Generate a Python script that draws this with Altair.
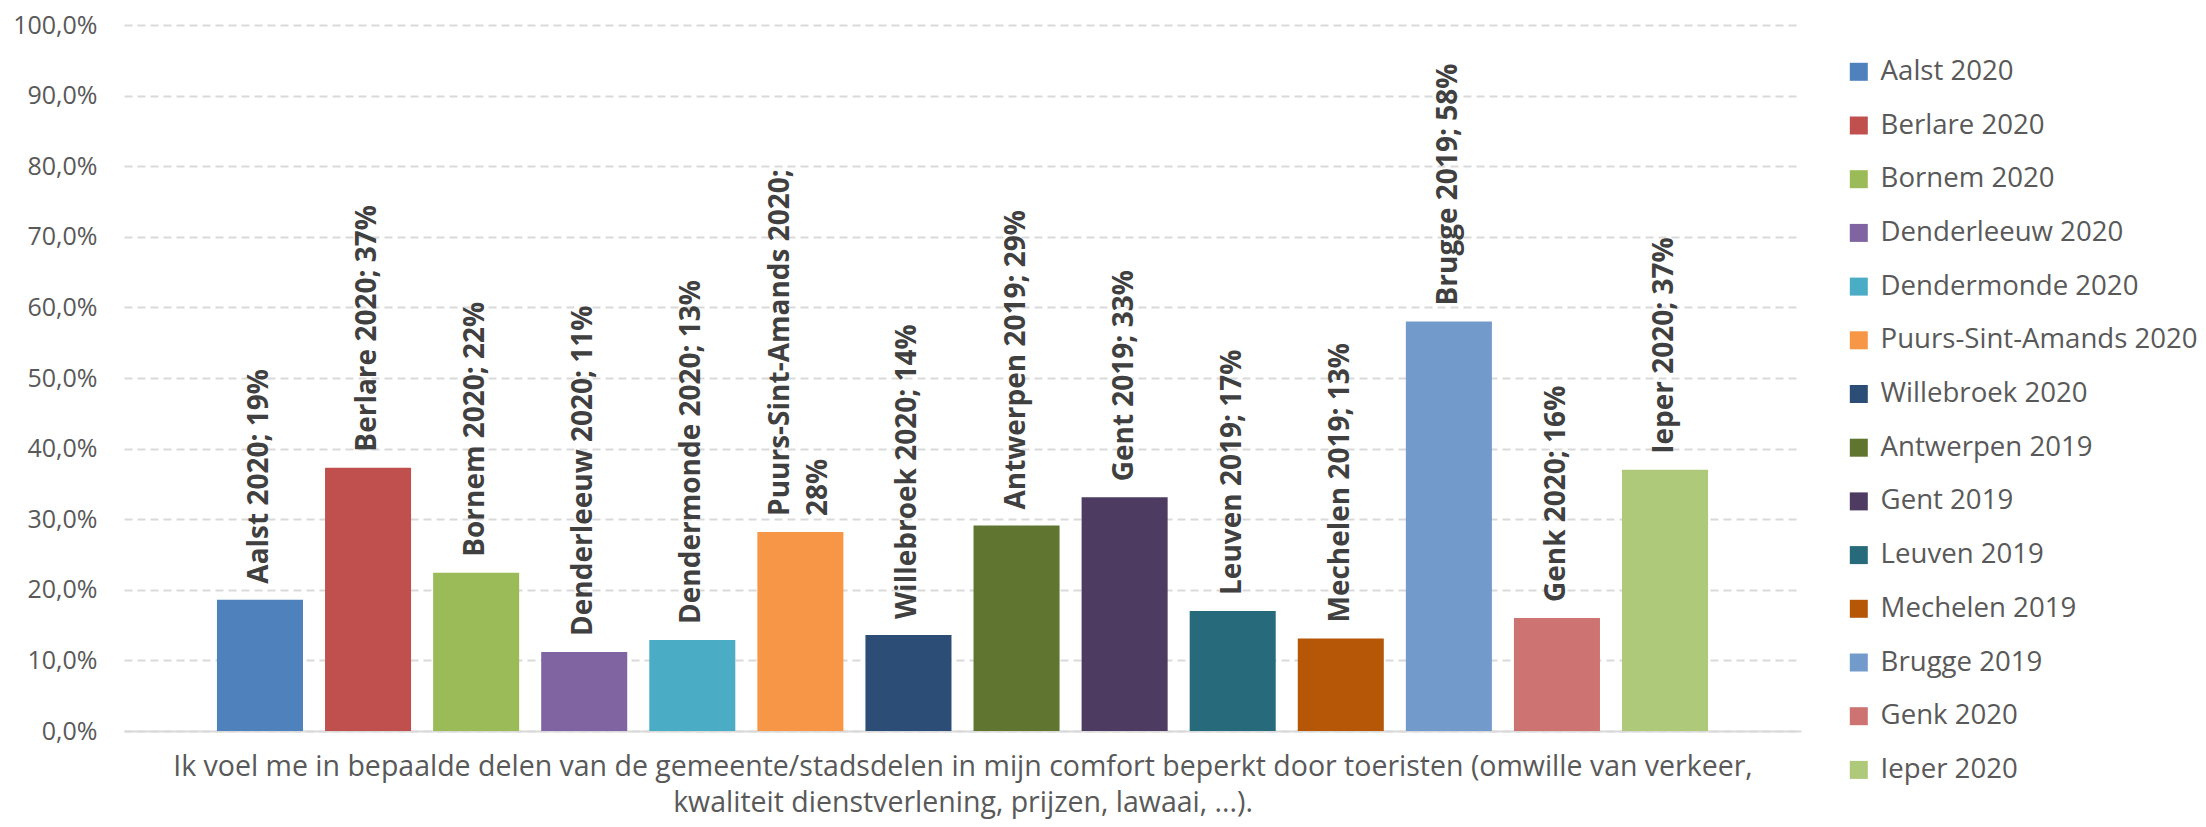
import altair as alt
import pandas as pd

series = ["Aalst 2020", "Berlare 2020", "Bornem 2020", "Denderleeuw 2020",
          "Dendermonde 2020", "Puurs-Sint-Amands 2020", "Willebroek 2020",
          "Antwerpen 2019", "Gent 2019", "Leuven 2019", "Mechelen 2019",
          "Brugge 2019", "Genk 2020", "Ieper 2020"]
values = [0.186, 0.373, 0.224, 0.112, 0.129, 0.282, 0.136,
          0.291, 0.331, 0.170, 0.131, 0.580, 0.160, 0.370]
colors = ["#4F81BD", "#C0504D", "#9BBB59", "#8064A2", "#4BACC6", "#F79646",
          "#2C4D75", "#5F7530", "#4D3B62", "#276A7C", "#B65708", "#729ACA",
          "#CD7371", "#AFC97A"]
y_ticks = [0.0, 0.1, 0.2, 0.3, 0.4, 0.5, 0.6, 0.7, 0.8, 0.9, 1.0]
x_title = ["Ik voel me in bepaalde delen van de gemeente/stadsdelen in mijn comfort beperkt door toeristen (omwille van verkeer,",
           "kwaliteit dienstverlening, prijzen, lawaai, ...)."]

labels = []
multi = []
for s, v in zip(series, values):
    pct = f"{round(v * 100)}%"
    txt = f"{s}; {pct}"
    if len(txt) > 24:
        labels.append(f"{s};\n{pct}")
        multi.append(True)
    else:
        labels.append(txt)
        multi.append(False)

df = pd.DataFrame({"series": series, "value": values, "label": labels, "multi": multi})

FONT = "Open Sans"
GREY = "#595959"

x_enc = alt.X(
    "series:N",
    sort=series,
    scale=alt.Scale(paddingInner=0.204, paddingOuter=0.86),
    axis=alt.Axis(
        title=x_title,
        labels=False,
        ticks=False,
        domain=True,
        domainColor="#D9D9D9",
        domainWidth=2,
        titleFont=FONT,
        titleFontSize=28.5,
        titleFontWeight="normal",
        titleColor=GREY,
        titleLineHeight=36,
        titleBaseline="alphabetic",
        titleY=44,
        titleAlign="center",
    ),
)

y_enc = alt.Y(
    "value:Q",
    scale=alt.Scale(domain=[0, 1], nice=False),
    axis=alt.Axis(
        title=None,
        values=y_ticks,
        labelExpr="replace(format(datum.value, '.1%'), '.', ',')",
        labelFont=FONT,
        labelFontSize=25,
        labelColor=GREY,
        labelPadding=27,
        ticks=False,
        domain=False,
        grid=True,
        gridColor="#D9D9D9",
        gridWidth=2,
        gridDash=[8, 5],
    ),
)

bars = alt.Chart(df).mark_bar().encode(
    x=x_enc,
    y=y_enc,
    color=alt.Color(
        "series:N",
        sort=series,
        scale=alt.Scale(domain=series, range=colors),
        legend=alt.Legend(
            title=None,
            orient="none",
            legendX=1721,
            legendY=33,
            symbolType="square",
            symbolSize=324,
            symbolStrokeWidth=0,
            labelFont=FONT,
            labelFontSize=27.6,
            labelColor=GREY,
            labelOffset=8,
            rowPadding=24.7,
            labelLimit=400,
        ),
    ),
)

text_style = dict(
    angle=270,
    align="left",
    baseline="middle",
    dx=16,
    font=FONT,
    fontSize=28,
    fontWeight="bold",
    color="#404040",
    lineBreak="\n",
    lineHeight=38,
)

text_single = alt.Chart(df).transform_filter("!datum.multi").mark_text(**text_style).encode(
    x=alt.X("series:N", sort=series),
    y=alt.Y("value:Q"),
    text="label:N",
)

text_multi = alt.Chart(df).transform_filter("datum.multi").mark_text(dy=-19, **text_style).encode(
    x=alt.X("series:N", sort=series),
    y=alt.Y("value:Q"),
    text="label:N",
)

chart = (bars + text_single + text_multi).properties(
    width=1677,
    height=706,
    autosize=alt.AutoSizeParams(type="none"),
    padding={"left": 116, "top": 17, "right": 397, "bottom": 88},
).configure_view(stroke=None)

chart.save("out.html", embed_options={"renderer": "svg", "actions": False})
